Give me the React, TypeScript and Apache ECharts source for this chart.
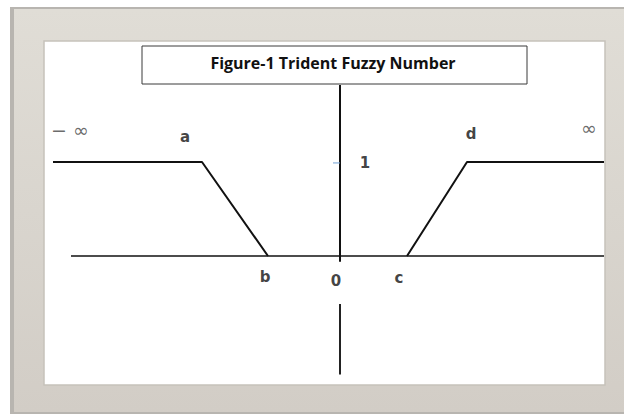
import React, { useEffect, useRef } from "react";
import * as echarts from "echarts";

// Membership function corner points (x in abstract units, y = membership grade)
const leftBranch: [number, number][] = [[-28.7, 1], [-13.8, 1], [-7.2, 0]];
const rightBranch: [number, number][] = [[6.7, 0], [12.7, 1], [26.4, 1]];
const horizontalAxis: [number, number][] = [[-26.9, 0], [26.4, 0]];
const verticalUpper: [number, number][] = [[0, 1.82], [0, -0.06]];
const verticalLower: [number, number][] = [[0, -0.51], [0, -1.26]];
const unitTick: [number, number][] = [[-0.7, 0.99], [0, 0.99]];

const boldLabels = ["a", "b", "c", "d", "0", "1"];
const boldLabelPos: [number, number][] = [
  [-15.5, 1.27], [-7.5, -0.22], [5.9, -0.23], [13.1, 1.3], [-0.4, -0.27], [2.5, 0.99],
];
const infLabels = ["− ∞", "∞"];
const infLabelPos: [number, number][] = [[-27.0, 1.34], [24.9, 1.36]];

const titleText = "Figure-1 Trident Fuzzy Number";

export default function App() {
  const ref = useRef<HTMLDivElement>(null);
  useEffect(() => {
    document.body.style.margin = "0";
    const chart = echarts.init(ref.current!, null, { renderer: "svg" });
    const lineSeries = (data: [number, number][], color = "#111", width = 2) => ({
      type: "line",
      data,
      symbol: "none",
      silent: true,
      lineStyle: { color, width },
      z: 3,
    });
    chart.setOption({
      animation: false,
      backgroundColor: "#ffffff",
      grid: { left: 40, top: 68, width: 570, height: 329 },
      xAxis: { type: "value", min: -30, max: 27, show: false },
      yAxis: { type: "value", min: -1.5, max: 2, show: false },
      graphic: [
        {
          type: "rect",
          z: -10,
          shape: { x: 10, y: 7, width: 614, height: 407 },
          style: { fill: "#b8b5b0" },
        },
        {
          type: "rect",
          z: -9,
          shape: { x: 14, y: 9, width: 610, height: 403 },
          style: {
            fill: new echarts.graphic.LinearGradient(0, 0, 0, 1, [
              { offset: 0, color: "#e0ddd6" },
              { offset: 1, color: "#d2cdc6" },
            ]),
          },
        },
        {
          type: "rect",
          z: -8,
          shape: { x: 44, y: 41, width: 561, height: 344 },
          style: { fill: "#ffffff", stroke: "#c6c2bb", lineWidth: 1.5 },
        },
        {
          type: "rect",
          z: 5,
          shape: { x: 142, y: 46, width: 385, height: 38 },
          style: { fill: "#ffffff", stroke: "#3a3a3a", lineWidth: 1 },
        },
        {
          type: "text",
          z: 6,
          x: 333,
          y: 63,
          style: {
            text: titleText,
            fill: "#111",
            font: "bold 16px 'Open Sans', sans-serif",
            align: "center",
            verticalAlign: "middle",
          },
        },
      ],
      series: [
        lineSeries(leftBranch),
        lineSeries(rightBranch),
        lineSeries(horizontalAxis, "#111", 1.6),
        lineSeries(verticalUpper),
        lineSeries(verticalLower, "#222", 2),
        lineSeries(unitTick, "#6f9fd3", 1),
        {
          type: "scatter",
          symbolSize: 0,
          silent: true,
          data: boldLabels.map((t, i) => ({ value: boldLabelPos[i], name: t })),
          label: {
            show: true,
            position: "inside",
            formatter: (p: any) => p.name,
            color: "#111",
            fontSize: 15,
            fontWeight: "bold",
            fontFamily: "DejaVu Sans",
          },
          z: 4,
        },
        {
          type: "scatter",
          symbolSize: 0,
          silent: true,
          data: infLabels.map((t, i) => ({ value: infLabelPos[i], name: t })),
          label: {
            show: true,
            position: "inside",
            formatter: (p: any) => p.name,
            color: "#444",
            fontSize: 19,
            fontFamily: "DejaVu Sans",
          },
          z: 4,
        },
      ],
    });
    return () => chart.dispose();
  }, []);
  return <div ref={ref} style={{ width: 624, height: 414 }} />;
}
